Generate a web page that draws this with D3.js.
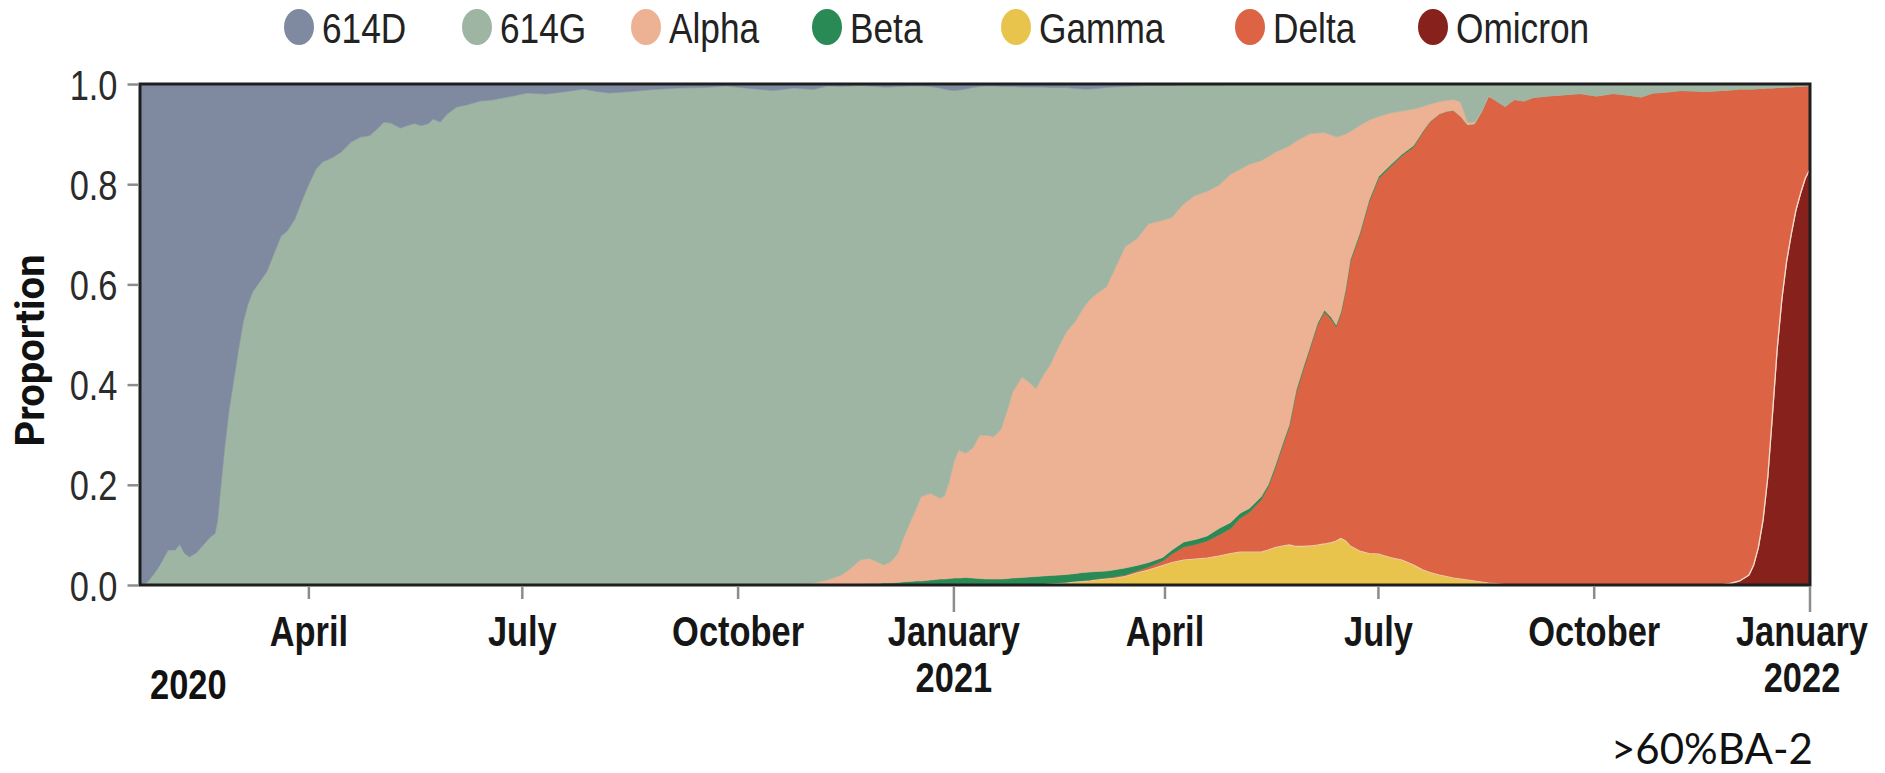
<!DOCTYPE html>
<html>
<head>
<meta charset="utf-8">
<script src="https://cdn.jsdelivr.net/npm/d3@7"></script>
<style>
  html, body { margin: 0; padding: 0; background: #ffffff; }
  svg { display: block; }
</style>
</head>
<body>
<svg id="chart" width="1885" height="773"></svg>
<script>
// ---- data: share of sequenced genomes by variant ----
// sample days, counted from 20 January 2020
const startDate = new Date(2020, 0, 20);
const days = [
  0, 3, 6, 9, 12, 15, 17, 19, 21, 24,
  27, 30, 32, 33, 34, 36, 38, 40, 42, 44,
  46, 48, 51, 54, 57, 60, 63, 66, 69, 72,
  75, 78, 82, 86, 90, 94, 98, 102, 104, 107,
  111, 114, 117, 120, 123, 125, 128, 131, 135, 140,
  145, 150, 159, 165, 173, 182, 189, 195, 200, 209,
  219, 230, 241, 250, 258, 270, 279, 287, 293, 299,
  303, 307, 311, 314, 317, 320, 323, 325, 328, 331,
  333, 337, 341, 343, 345, 347, 349, 352, 355, 358,
  361, 364, 367, 370, 372, 376, 379, 382, 385, 388,
  392, 395, 399, 402, 405, 408, 412, 415, 420, 425,
  430, 436, 440, 445, 450, 455, 460, 465, 469, 473,
  478, 481, 484, 487, 490, 493, 496, 499, 502, 505,
  508, 510, 512, 514, 516, 520, 524, 528, 533, 538,
  543, 547, 550, 554, 557, 560, 563, 566, 569, 572,
  575, 578, 582, 586, 590, 594, 600, 606, 614, 621,
  628, 634, 640, 645, 651, 657, 663, 668, 674, 678,
  682, 686, 688, 690, 692, 694, 696, 698, 700, 702,
  704, 706, 708, 710, 712
];

const v614D = [
  1, .995, .978, .956, .93, .93, .919, .937, .944, .936,
  .92, .904, .897, .874, .825, .73, .65, .59, .53, .475,
  .44, .415, .395, .375, .34, .305, .292, .27, .233, .2,
  .17, .155, .147, .135, .116, .106, .103, .086, .076, .078,
  .088, .083, .079, .083, .079, .07, .076, .06, .046, .041,
  .034, .032, .024, .018, .02, .015, .01, .015, .018, .015,
  .011, .008, .007, .004, .008, .013, .008, .011, .004, .005,
  .004, .003, .004, .005, .006, .006, .005, .005, .004, .004,
  .004, .005, .008, .01, .012, .013, .012, .01, .007, .005,
  .004, .004, .005, .005, .005, .006, .006, .006, .006, .007,
  .007, .007, .009, .01, .01, .009, .007, .006, .005, .004,
  .003, .003, .003, .002, .002, .002, .002, .001, .001, .001,
  .001, .001, .001, 0, 0, 0, 0, 0, 0, 0,
  0, 0, 0, 0, 0, 0, 0, 0, 0, 0,
  0, 0, 0, 0, 0, 0, 0, 0, 0, 0,
  0, 0, 0, 0, 0, 0, 0, 0, 0, 0,
  0, 0, 0, 0, 0, 0, 0, 0, 0, 0,
  0, 0, 0, 0, 0, 0, 0, 0, 0, 0,
  0, 0, 0, 0, 0
];

const v614G = [
  0, .005, .022, .044, .07, .07, .081, .063, .056, .064,
  .08, .096, .103, .126, .175, .27, .35, .41, .47, .525,
  .56, .585, .605, .625, .66, .695, .708, .73, .767, .8,
  .83, .845, .853, .865, .884, .894, .897, .914, .924, .922,
  .912, .917, .921, .917, .921, .93, .924, .94, .954, .959,
  .966, .968, .976, .982, .98, .985, .99, .985, .982, .985,
  .989, .992, .993, .996, .992, .987, .992, .985, .986, .975,
  .963, .947, .943, .948, .954, .948, .933, .907, .874, .843,
  .82, .812, .819, .812, .782, .741, .719, .727, .72, .696,
  .697, .7, .685, .643, .61, .579, .589, .602, .576, .554,
  .514, .488, .463, .438, .42, .409, .398, .369, .32, .305,
  .276, .269, .263, .237, .22, .212, .2, .179, .169, .159,
  .152, .144, .135, .13, .124, .114, .106, .099, .098, .097,
  .102, .106, .103, .1, .095, .083, .072, .065, .058, .054,
  .05, .045, .04, .035, .033, .031, .036, .076, .076, .054,
  .023, .033, .045, .031, .034, .027, .024, .022, .019, .024,
  .019, .022, .026, .018, .016, .013, .014, .015, .013, .012,
  .01, .01, .01, .009, .009, .008, .008, .007, .007, .006,
  .006, .005, .005, .004, .004
];

const alpha = [
  0, 0, 0, 0, 0, 0, 0, 0, 0, 0,
  0, 0, 0, 0, 0, 0, 0, 0, 0, 0,
  0, 0, 0, 0, 0, 0, 0, 0, 0, 0,
  0, 0, 0, 0, 0, 0, 0, 0, 0, 0,
  0, 0, 0, 0, 0, 0, 0, 0, 0, 0,
  0, 0, 0, 0, 0, 0, 0, 0, 0, 0,
  0, 0, 0, 0, 0, 0, 0, .004, .01, .02,
  .032, .048, .05, .044, .036, .042, .057, .082, .115, .145,
  .168, .173, .161, .166, .193, .232, .255, .248, .259, .286,
  .287, .284, .298, .339, .371, .4, .389, .375, .4, .42,
  .459, .484, .505, .527, .544, .555, .567, .595, .641, .652,
  .676, .673, .664, .675, .687, .688, .685, .695, .687, .687,
  .671, .655, .626, .59, .556, .496, .459, .423, .38, .354,
  .364, .375, .352, .31, .256, .215, .16, .12, .104, .086,
  .073, .049, .035, .025, .022, .022, .029, .006, .004, .002,
  .002, 0, 0, 0, 0, 0, 0, 0, 0, 0,
  0, 0, 0, 0, 0, 0, 0, 0, 0, 0,
  0, 0, 0, 0, 0, 0, 0, 0, 0, 0,
  0, 0, 0, 0, 0
];

const beta = [
  0, 0, 0, 0, 0, 0, 0, 0, 0, 0,
  0, 0, 0, 0, 0, 0, 0, 0, 0, 0,
  0, 0, 0, 0, 0, 0, 0, 0, 0, 0,
  0, 0, 0, 0, 0, 0, 0, 0, 0, 0,
  0, 0, 0, 0, 0, 0, 0, 0, 0, 0,
  0, 0, 0, 0, 0, 0, 0, 0, 0, 0,
  0, 0, 0, 0, 0, 0, 0, 0, 0, 0,
  .001, .002, .003, .003, .004, .004, .005, .006, .007, .008,
  .008, .01, .012, .012, .013, .014, .014, .015, .014, .013,
  .012, .012, .012, .013, .014, .015, .016, .017, .017, .017,
  .017, .016, .016, .017, .016, .015, .014, .014, .014, .011,
  .009, .007, .008, .01, .01, .01, .013, .012, .01, .008,
  .006, .005, .005, .005, .005, .005, .005, .004, .004, .004,
  .004, .004, .004, .004, .004, .004, .004, .004, .004, .003,
  .003, .002, .001, 0, 0, 0, 0, 0, 0, 0,
  0, 0, 0, 0, 0, 0, 0, 0, 0, 0,
  0, 0, 0, 0, 0, 0, 0, 0, 0, 0,
  0, 0, 0, 0, 0, 0, 0, 0, 0, 0,
  0, 0, 0, 0, 0
];

const gamma = [
  0, 0, 0, 0, 0, 0, 0, 0, 0, 0,
  0, 0, 0, 0, 0, 0, 0, 0, 0, 0,
  0, 0, 0, 0, 0, 0, 0, 0, 0, 0,
  0, 0, 0, 0, 0, 0, 0, 0, 0, 0,
  0, 0, 0, 0, 0, 0, 0, 0, 0, 0,
  0, 0, 0, 0, 0, 0, 0, 0, 0, 0,
  0, 0, 0, 0, 0, 0, 0, 0, 0, 0,
  0, 0, 0, 0, 0, 0, 0, 0, 0, 0,
  0, 0, 0, 0, 0, 0, 0, 0, 0, 0,
  0, 0, 0, 0, 0, 0, 0, 0, .001, .002,
  .003, .004, .006, .007, .008, .01, .012, .013, .017, .024,
  .03, .039, .045, .05, .052, .054, .058, .063, .066, .066,
  .066, .07, .075, .078, .08, .077, .077, .078, .08, .082,
  .085, .088, .093, .088, .078, .068, .063, .062, .055, .05,
  .04, .03, .025, .02, .017, .014, .012, .01, .008, .006,
  .004, .003, .001, 0, 0, 0, 0, 0, 0, 0,
  0, 0, 0, 0, 0, 0, 0, 0, 0, 0,
  0, 0, 0, 0, 0, 0, 0, 0, 0, 0,
  0, 0, 0, 0, 0
];

const delta = [
  0, 0, 0, 0, 0, 0, 0, 0, 0, 0,
  0, 0, 0, 0, 0, 0, 0, 0, 0, 0,
  0, 0, 0, 0, 0, 0, 0, 0, 0, 0,
  0, 0, 0, 0, 0, 0, 0, 0, 0, 0,
  0, 0, 0, 0, 0, 0, 0, 0, 0, 0,
  0, 0, 0, 0, 0, 0, 0, 0, 0, 0,
  0, 0, 0, 0, 0, 0, 0, 0, 0, 0,
  0, 0, 0, 0, 0, 0, 0, 0, 0, 0,
  0, 0, 0, 0, 0, 0, 0, 0, 0, 0,
  0, 0, 0, 0, 0, 0, 0, 0, 0, 0,
  0, .001, .001, .001, .002, .002, .002, .003, .003, .004,
  .006, .009, .017, .026, .029, .034, .042, .05, .067, .079,
  .104, .125, .158, .197, .235, .308, .353, .396, .438, .463,
  .445, .427, .448, .498, .567, .63, .701, .749, .779, .807,
  .834, .874, .899, .92, .928, .933, .923, .908, .912, .938,
  .971, .964, .954, .969, .966, .973, .976, .978, .981, .976,
  .981, .978, .974, .982, .984, .987, .986, .985, .987, .985,
  .982, .97, .95, .916, .861, .777, .652, .523, .423, .349,
  .294, .247, .213, .184, .166
];

const omicron = [
  0, 0, 0, 0, 0, 0, 0, 0, 0, 0,
  0, 0, 0, 0, 0, 0, 0, 0, 0, 0,
  0, 0, 0, 0, 0, 0, 0, 0, 0, 0,
  0, 0, 0, 0, 0, 0, 0, 0, 0, 0,
  0, 0, 0, 0, 0, 0, 0, 0, 0, 0,
  0, 0, 0, 0, 0, 0, 0, 0, 0, 0,
  0, 0, 0, 0, 0, 0, 0, 0, 0, 0,
  0, 0, 0, 0, 0, 0, 0, 0, 0, 0,
  0, 0, 0, 0, 0, 0, 0, 0, 0, 0,
  0, 0, 0, 0, 0, 0, 0, 0, 0, 0,
  0, 0, 0, 0, 0, 0, 0, 0, 0, 0,
  0, 0, 0, 0, 0, 0, 0, 0, 0, 0,
  0, 0, 0, 0, 0, 0, 0, 0, 0, 0,
  0, 0, 0, 0, 0, 0, 0, 0, 0, 0,
  0, 0, 0, 0, 0, 0, 0, 0, 0, 0,
  0, 0, 0, 0, 0, 0, 0, 0, 0, 0,
  0, 0, 0, 0, 0, 0, 0, 0, 0, .003,
  .008, .02, .04, .075, .13, .215, .34, .47, .57, .645,
  .7, .748, .782, .812, .83
];

// legend order
const variants = ["614D", "614G", "Alpha", "Beta", "Gamma", "Delta", "Omicron"];
const variantColors = ["#7f8aa1", "#9eb5a3", "#ecb293", "#2a8a56", "#e9c44d", "#dc6445", "#86211c"];
// stacking order, bottom to top
const stackOrder = ["Omicron", "Gamma", "Delta", "Beta", "Alpha", "614G", "614D"];

const yTicks = [0, 0.2, 0.4, 0.6, 0.8, 1.0];
const xTickDates = ["2020-04-01", "2020-07-01", "2020-10-01", "2021-01-01",
                    "2021-04-01", "2021-07-01", "2021-10-01", "2022-01-01"];
const xTickLabels = [["April"], ["July"], ["October"], ["January", "2021"],
                     ["April"], ["July"], ["October"], ["January", "2022"]];
const firstYearLabel = "2020";
const yAxisTitle = "Proportion";
const footNote = ">60%BA-2";

// ---- build rows ----
const seriesValues = {
  "614D": v614D, "614G": v614G, "Alpha": alpha, "Beta": beta,
  "Gamma": gamma, "Delta": delta, "Omicron": omicron
};
for (const k in seriesValues) {
  if (seriesValues[k].length !== days.length) console.error("length mismatch", k, seriesValues[k].length, days.length);
}
const rows = days.map((d, i) => {
  const r = { date: d3.timeDay.offset(startDate, d) };
  variants.forEach(v => { r[v] = seriesValues[v][i]; });
  return r;
});

// ---- layout ----
const plot = { left: 140, right: 1810, top: 84, bottom: 585 };
const parseDay = d3.timeParse("%Y-%m-%d");
// condensed lettering: regular sans squeezed horizontally
const NARROW_FONT = "'Liberation Sans', Arial, sans-serif";
const SQUEEZE = 0.82;
// legend swatch centres along the top strip
const legendLayout = { cy: 27, swatchX: [299, 477, 646, 827, 1016, 1250, 1433], textGap: 23 };

const svg = d3.select("#chart");
const x = d3.scaleTime()
  .domain([startDate, parseDay("2022-01-01")])
  .range([plot.left, plot.right]);
const y = d3.scaleLinear().domain([0, 1]).range([plot.bottom, plot.top]);
const color = d3.scaleOrdinal().domain(variants).range(variantColors);

function narrowText(parent, px, py, str, opts = {}) {
  return parent.append("text")
    .attr("transform", `translate(${px},${py}) scale(${SQUEEZE},1)`)
    .attr("text-anchor", opts.anchor || "start")
    .attr("font-family", NARROW_FONT)
    .attr("font-weight", opts.weight || 400)
    .attr("font-size", opts.size || 42)
    .attr("fill", opts.fill || "#222")
    .text(str);
}

// ---- stacked areas ----
const stacked = d3.stack().keys(stackOrder)(rows);
const area = d3.area()
  .x(d => x(d.data.date))
  .y0(d => y(d[0]))
  .y1(d => y(d[1]))
  .curve(d3.curveLinear);

svg.append("defs").append("clipPath").attr("id", "plot-clip")
  .append("rect")
  .attr("x", plot.left).attr("y", plot.top)
  .attr("width", plot.right - plot.left).attr("height", plot.bottom - plot.top);

const layers = svg.append("g").attr("clip-path", "url(#plot-clip)");
layers.selectAll("path.layer")
  .data(stacked)
  .join("path")
  .attr("class", "layer")
  .attr("fill", d => color(d.key))
  .attr("stroke", d => color(d.key))
  .attr("stroke-width", 0.6)
  .attr("d", area);

// pale edge along the upper boundary of a layer, where that layer is present
function layerEdge(key, stroke, width, opacity) {
  const layer = stacked.find(s => s.key === key);
  const pts = layer.filter((p, i) =>
    p.data[key] > 0 || (i + 1 < layer.length && layer[i + 1].data[key] > 0) || (i > 0 && layer[i - 1].data[key] > 0));
  layers.append("path")
    .datum(pts)
    .attr("fill", "none")
    .attr("stroke", stroke)
    .attr("stroke-width", width)
    .attr("stroke-opacity", opacity)
    .attr("d", d3.line().x(d => x(d.data.date)).y(d => y(d[1])));
}
layerEdge("Gamma", "#f6e7c4", 1.1, 0.75);
layerEdge("Omicron", "#f4ddd6", 1.3, 1);

// ---- frame ----
svg.append("rect")
  .attr("x", plot.left).attr("y", plot.top)
  .attr("width", plot.right - plot.left).attr("height", plot.bottom - plot.top)
  .attr("fill", "none")
  .attr("stroke", "#1e1e1e")
  .attr("stroke-width", 3);

// ---- y axis ----
const yAxis = svg.append("g")
  .attr("transform", `translate(${plot.left - 1.5},0)`)
  .call(d3.axisLeft(y).tickValues(yTicks).tickFormat(d3.format(".1f")).tickSize(11).tickPadding(10));
yAxis.select(".domain").remove();
yAxis.selectAll(".tick line").attr("stroke", "#8c8c8c").attr("stroke-width", 2.5);
yAxis.selectAll(".tick text")
  .attr("transform", `translate(-21,0) scale(${SQUEEZE},1)`)
  .attr("x", 0)
  .attr("dy", "0.36em")
  .attr("font-family", NARROW_FONT)
  .attr("font-size", 42)
  .attr("fill", "#2b2b2b");

svg.append("text")
  .attr("transform", `translate(44,${(plot.top + plot.bottom) / 2 + 16}) rotate(-90)`)
  .attr("text-anchor", "middle")
  .attr("font-family", "Roboto, 'Liberation Sans', sans-serif")
  .attr("font-weight", 700)
  .attr("font-size", 40)
  .attr("fill", "#111")
  .text(yAxisTitle);

// ---- x axis ----
const xAxis = svg.append("g").attr("class", "x-axis");
xTickDates.forEach((ds, i) => {
  const tx = x(parseDay(ds));
  const isYear = xTickLabels[i].length > 1;
  xAxis.append("line")
    .attr("x1", tx).attr("x2", tx)
    .attr("y1", plot.bottom + 1.5).attr("y2", plot.bottom + (isYear ? 27 : 14))
    .attr("stroke", "#8c8c8c").attr("stroke-width", 2.5);
  const lx = tx + (i === xTickDates.length - 1 ? -8 : 0);
  xTickLabels[i].forEach((line, j) => {
    narrowText(xAxis, lx, 646 + j * 46, line, { anchor: "middle", weight: 700, fill: "#161616" });
  });
});

narrowText(svg, 150, 699, firstYearLabel, { anchor: "start", weight: 700, fill: "#111" });

svg.append("text")
  .attr("x", 1611).attr("y", 764)
  .attr("font-family", "Lato, 'Open Sans', sans-serif")
  .attr("font-size", 42)
  .attr("fill", "#111")
  .text(footNote);

// ---- legend ----
const legend = svg.append("g").attr("class", "legend");
variants.forEach((v, i) => {
  const cx = legendLayout.swatchX[i];
  legend.append("ellipse")
    .attr("cx", cx).attr("cy", legendLayout.cy)
    .attr("rx", 15).attr("ry", 18)
    .attr("fill", color(v));
  narrowText(legend, cx + legendLayout.textGap, 43, v, { size: 43, fill: "#222" });
});
</script>
</body>
</html>
